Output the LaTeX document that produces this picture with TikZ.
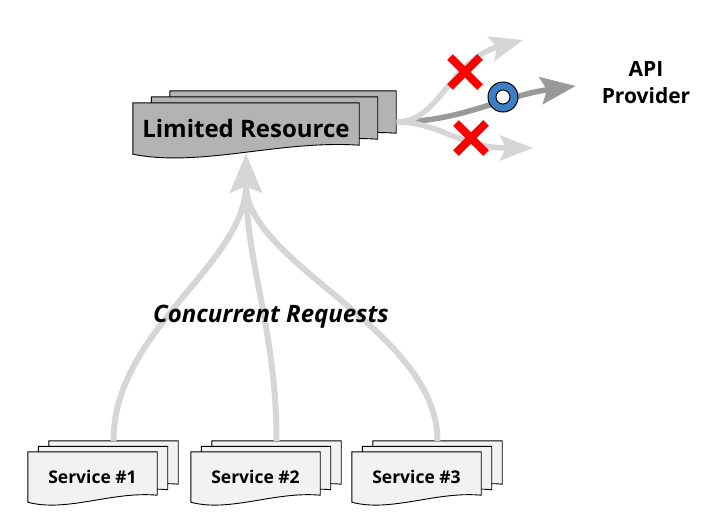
\documentclass[tikz,border=0pt]{standalone}
\usepackage{fontspec}
\setmainfont{Open Sans}
\usetikzlibrary{arrows.meta,calc,shapes.misc,backgrounds}

\definecolor{resfill}{HTML}{B3B3B3}
\definecolor{svcfill}{HTML}{F2F2F2}
\definecolor{flowgray}{HTML}{D6D6D6}
\definecolor{passgray}{HTML}{999999}
\definecolor{gateblue}{HTML}{3D7FC4}

% three stacked sheets behind node #1, offset (#2,#3), wave #4, fill #5
\newcommand\docstack[5]{%
  \foreach \k in {2,1,0}{
    \pgfmathsetmacro\ox{\k*#2}
    \pgfmathsetmacro\oy{\k*#3}
    \draw[sheet,fill=#5]
      ($(#1.north west)+(\ox,\oy)$) -- ($(#1.north east)+(\ox,\oy)$)
      -- ($(#1.south east)+(\ox,\oy-#4)$)
      .. controls ($(#1.south west)!0.65!(#1.south east)+(\ox,\oy-1.6*#4)$)
      and ($(#1.south west)!0.3!(#1.south east)+(\ox,\oy+1.5*#4)$)
      .. ($(#1.south west)+(\ox,\oy)$) -- cycle;
  }%
}

\begin{document}
\begin{tikzpicture}
    [x=1pt,y=-1pt,%%%%%%%%%%%%%%%%%%%%%%%%%%%%%%
        sheet/.style={draw=black,line width=0.9pt},
        resbox/.style={minimum width=226pt,minimum height=51pt,inner sep=0pt,
            font=\bfseries\fontsize{24}{28}\selectfont},
        svcbox/.style={minimum width=129pt,minimum height=50pt,inner sep=0pt,
            font=\bfseries\fontsize{17.5}{21}\selectfont},
        flow/.style={draw=flowgray,line width=6pt,
            -{Stealth[length=38pt,width=31pt,inset=6pt]}},
        lostflow/.style={draw=flowgray,line width=5.5pt,
            -{Stealth[length=33pt,width=25pt,inset=6pt]}},
        passflow/.style={draw=passgray,line width=5.5pt,
            -{Stealth[length=35pt,width=27pt,inset=6pt]}},
        blocked/.style={cross out,draw=red,line width=8pt,minimum size=22pt,inner sep=0pt},
        gate/.style={circle,draw=black,fill=gateblue,line width=1pt,minimum size=30pt,inner sep=0pt,
            path picture={\draw[fill=white,line width=1pt] (path picture bounding box.center) circle (7pt);}},
    ]%%%%%%%%%%%%%%%%%%%%%%%%%%%%%%
\useasboundingbox (0,0) rectangle (712,531);

\node[resbox] (res) at (246,128.5) {Limited Resource};

\foreach \s/\x in {1/92.5,2/255.5,3/416.5}
    \node[svcbox] (svc\s) at (\x,477) {Service \#\s};

\begin{scope}[on background layer]
\docstack{res}{18.5}{-6}{9}{resfill}
\foreach \s in {1,2,3}{
    \docstack{svc\s}{10.5}{-5.5}{7}{svcfill}
}
\end{scope}

\node[font=\bfseries\fontsize{21}{26.6}\selectfont,align=center,inner sep=0pt] (api) at (646,82.5) {API\\Provider};

% requests into the resource
\foreach \s in {1,2,3}
    \draw[flow] ($(svc\s.north)+(21,-11)$) .. controls +(0,-111) and +(0,110) .. (res.south);

\node[font=\bfseries\itshape\fontsize{24}{28}\selectfont,inner sep=0pt] (conc) at (271,317) {Concurrent Requests};

% out of the resource
\coordinate (fork) at ($(res.east)+(37.5,-6.5)$);
\coordinate (lostA) at (523,40);
\coordinate (lostB) at (533,148);
\draw[passflow,shorten >=26pt] (fork) .. controls +(63,0) and +(-97,13) .. (api.west);
\draw[lostflow] (fork) .. controls +(43,0) and +(-73,20) .. (lostA);
\draw[lostflow] (fork) .. controls +(43,0) and +(-73,0) .. (lostB);

\node[blocked] (stopA) at (465,72) {};
\node[blocked] (stopB) at (471,138) {};
\node[gate] (pass) at (503,97) {};
\end{tikzpicture}
\end{document}
